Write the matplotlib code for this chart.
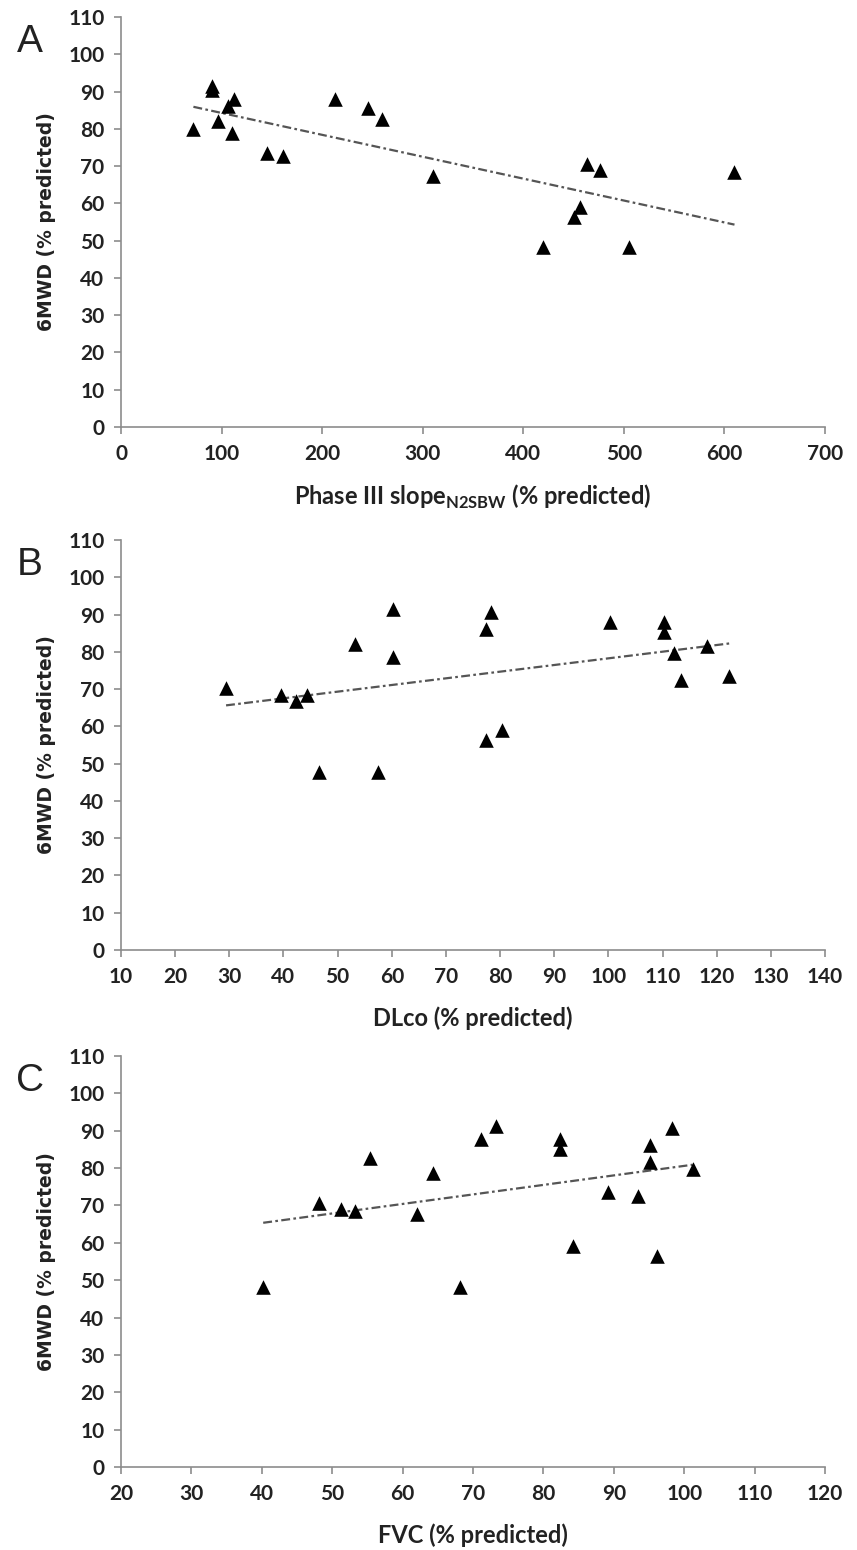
"""Three scatter panels: 6MWD vs lung function indices with linear trend lines."""
import numpy as np
import matplotlib
matplotlib.use('Agg')
import matplotlib.pyplot as plt

# Data
# Panel A: Phase III slope N2SBW (% predicted) vs 6MWD (% predicted)
slope_x = [72, 90, 90, 96, 106, 112, 110, 145, 161, 213, 246, 260, 310,
           420, 450, 456, 463, 476, 505, 610]
slope_y = [80, 91.5, 90.5, 82, 86, 88, 78.8, 73.4, 72.7, 88, 85.5, 82.6, 67.4,
           48.2, 56.4, 58.9, 70.5, 68.9, 48.2, 68.5]

# Panel B: DLco (% predicted) vs 6MWD (% predicted)
dlco_x = [29.4, 39.5, 42.4, 44.4, 46.5, 53.3, 57.4, 60.3, 60.3, 77.4,
          77.4, 78.3, 80.4, 100.3, 110.3, 110.3, 112.2, 113.4, 118.2, 122.3]
dlco_y = [70.4, 68.4, 66.9, 68.5, 47.7, 82, 47.7, 91.4, 78.6, 86.1,
          56.4, 90.7, 58.9, 87.9, 87.9, 85.2, 79.6, 72.5, 81.5, 73.4]

# Panel C: FVC (% predicted) vs 6MWD (% predicted)
fvc_x = [40.2, 48.1, 51.2, 53.2, 55.3, 62.1, 64.3, 68.2, 71.1, 73.3,
         82.3, 82.3, 84.2, 89.2, 93.4, 95.2, 95.2, 96.2, 98.2, 101.2]
fvc_y = [48.2, 70.6, 69, 68.5, 82.7, 67.6, 78.6, 48.2, 87.7, 91.3,
         87.9, 85.2, 59.1, 73.5, 72.6, 86.3, 81.6, 56.6, 90.7, 79.7]

panels = [
    ('A', slope_x, slope_y, (0, 700), 100,
     r'Phase III slope$_{\mathregular{N2SBW}}$ (% predicted)'),
    ('B', dlco_x, dlco_y, (10, 140), 10, 'DLco (% predicted)'),
    ('C', fvc_x, fvc_y, (20, 120), 10, 'FVC (% predicted)'),
]

W, H = 857, 1550
fig = plt.figure(figsize=(W / 100, H / 100), dpi=100)
fig.patch.set_facecolor('white')
plt.rcParams['mathtext.fontset'] = 'custom'
plt.rcParams['mathtext.rm'] = 'Lato:bold'

# axes boxes in pixels: (top of y=110, bottom of y=0)
boxes = [(17, 427), (540, 950), (1056, 1467)]
left_px, right_px = 121, 825

tick_font = ['Lato', 'DejaVu Sans']
axis_grey = '#8c8c8c'

for (letter, xs, ys, xlim, xstep, xlabel), (top, bot) in zip(panels, boxes):
    ax = fig.add_axes([left_px / W, 1 - bot / H,
                      (right_px - left_px) / W, (bot - top) / H])
    ax.scatter(xs, ys, marker='^', s=110, color='black', zorder=3,
               linewidths=0)

    # linear trend line
    xs_a = np.array(xs)
    coef = np.polyfit(xs_a, np.array(ys), 1)
    xline = np.array([xs_a.min(), xs_a.max()])
    ax.plot(xline, np.polyval(coef, xline), color='#555555', lw=1.6,
            linestyle=(0, (4, 1.5, 1.2, 1.5)), zorder=2)

    ax.set_xlim(*xlim)
    ax.set_ylim(0, 110)
    ax.set_xticks(np.arange(xlim[0], xlim[1] + 1, xstep))
    ax.set_yticks(np.arange(0, 111, 10))

    for side in ('top', 'right'):
        ax.spines[side].set_visible(False)
    for side in ('left', 'bottom'):
        ax.spines[side].set_color(axis_grey)
        ax.spines[side].set_linewidth(1.2)
    ax.tick_params(direction='out', length=5, width=1.2, color=axis_grey,
                   labelsize=15, pad=7)
    for lab in ax.get_xticklabels() + ax.get_yticklabels():
        lab.set_family(tick_font)
        lab.set_fontweight('bold')
        lab.set_color('#222222')

    ax.set_xlabel(xlabel, fontsize=17, fontweight='bold', family=tick_font,
                  color='#222222', labelpad=14)
    ax.set_ylabel('6MWD (% predicted)', fontsize=13.5, fontweight='bold',
                  family='DejaVu Sans', color='#222222', labelpad=9)

    fig.text(30 / W, 1 - (top + 25) / H, letter, fontsize=28,
             family='Liberation Sans', ha='center', va='center',
             color='#222222')

fig.savefig('out.png', dpi=100, facecolor='white')
